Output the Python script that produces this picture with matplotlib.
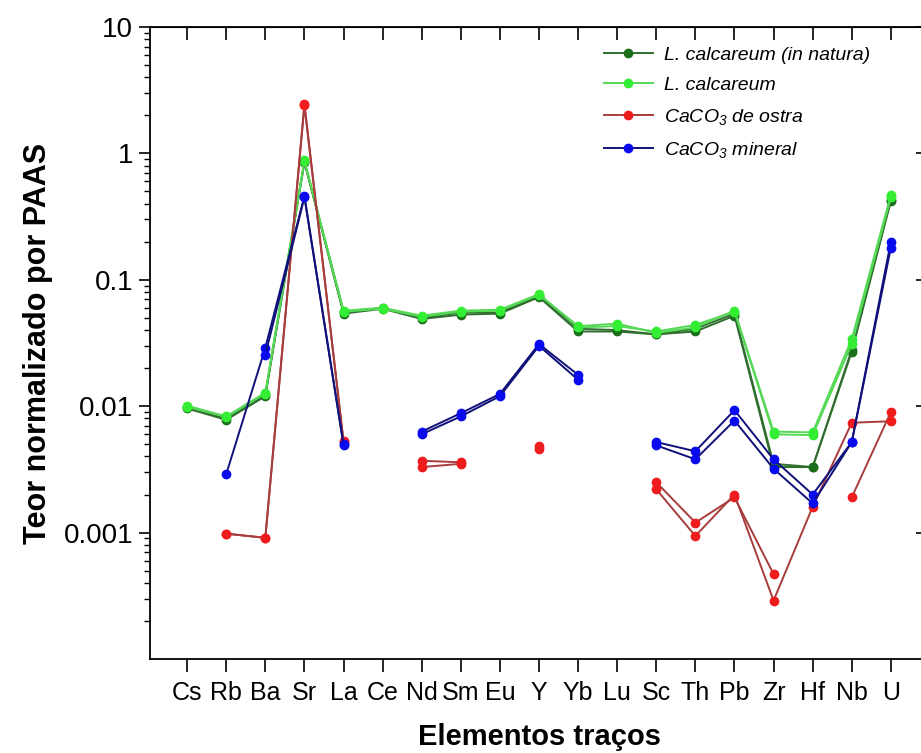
import numpy as np
import matplotlib
matplotlib.use('Agg')
import matplotlib.pyplot as plt
from matplotlib.ticker import FixedLocator, LogLocator, NullFormatter

plt.rcParams['mathtext.fontset'] = 'custom'
plt.rcParams['mathtext.rm'] = 'Liberation Sans:italic'
plt.rcParams['mathtext.it'] = 'Liberation Sans:italic'

nan = np.nan

elements = ['Cs', 'Rb', 'Ba', 'Sr', 'La', 'Ce', 'Nd', 'Sm', 'Eu', 'Y',
            'Yb', 'Lu', 'Sc', 'Th', 'Pb', 'Zr', 'Hf', 'Nb', 'U']

# L. calcareum (in natura) - two replicates
natura_a = [0.0096, 0.0078, 0.0120, 0.85, 0.054, 0.059, 0.049, 0.053, 0.054, 0.073,
            0.039, 0.039, 0.037, 0.039, 0.052, 0.0033, 0.0033, 0.027, 0.42]
natura_b = [0.0098, 0.0080, 0.0123, 0.86, 0.056, 0.060, 0.050, 0.055, 0.055, 0.075,
            0.041, 0.040, 0.037, 0.041, 0.054, 0.0035, 0.0033, 0.028, 0.43]

# L. calcareum
calc_a = [0.0101, 0.0083, 0.0128, 0.87, 0.056, 0.059, 0.051, 0.056, 0.057, 0.076,
          0.043, 0.045, 0.038, 0.042, 0.057, 0.0063, 0.0062, 0.034, 0.47]
calc_b = [0.0099, 0.0082, 0.0126, 0.88, 0.057, 0.060, 0.052, 0.057, 0.058, 0.077,
          0.042, 0.043, 0.039, 0.044, 0.056, 0.0060, 0.0059, 0.031, 0.45]

# CaCO3 de ostra
ostra_a = [nan, 0.00098, 0.00091, 2.45, 0.0053, nan, 0.0037, 0.0036, nan, 0.0048,
           nan, nan, 0.0025, 0.0012, 0.0019, 0.00047, nan, 0.0019, 0.0090]
ostra_b = [nan, 0.00098, 0.00091, 2.40, 0.0052, nan, 0.0033, 0.0035, nan, 0.0046,
           nan, nan, 0.0022, 0.00094, 0.0020, 0.00029, 0.0016, 0.0074, 0.0076]

# CaCO3 mineral
mineral_a = [nan, 0.0029, 0.029, 0.46, 0.0050, nan, 0.0063, 0.0088, 0.0125, 0.031,
             0.0177, nan, 0.0052, 0.0044, 0.0093, 0.0038, 0.0020, 0.0052, 0.20]
mineral_b = [nan, nan, 0.0255, 0.45, 0.0049, nan, 0.0060, 0.0083, 0.0120, 0.030,
             0.0162, nan, 0.0049, 0.0038, 0.0077, 0.0032, 0.0017, 0.0052, 0.18]

x = np.arange(len(elements))

fig = plt.figure(figsize=(9.21, 7.53), dpi=100)
ax = fig.add_axes([150/921, 94/753, 778/921, 632/753])

styles = [
    ('L. calcareum (in natura)', [natura_a, natura_b], '#2f6e2f', '#1b6e1b'),
    ('L. calcareum', [calc_a, calc_b], '#55d855', '#33ee33'),
    ('CaCO$_3$ de ostra', [ostra_a, ostra_b], '#a83c3c', '#ee1c1c'),
    ('CaCO$_3$ mineral', [mineral_a, mineral_b], '#10107a', '#0a0aee'),
]

order = [2, 0, 1, 3]
handles = [None] * 4
for i in order:
    label, series, lc, mc = styles[i]
    for k, s in enumerate(series):
        ln, = ax.plot(x, s, '-', color=lc, lw=1.4, marker='o', ms=6,
                      mfc=mc, mec=mc, label=label if k == 0 else None, zorder=2 + i)
        if k == 0:
            handles[i] = ln

ax.set_yscale('log')
ax.set_ylim(1e-4, 10)
ax.set_xlim(-0.95, 18.95)

ax.set_xticks(x)
ax.set_xticklabels(elements, family='Liberation Sans', fontsize=18)
ax.xaxis.set_ticks_position('bottom')
ax.tick_params(axis='x', direction='out', length=9, width=1.2, pad=7)

ax.yaxis.set_major_locator(FixedLocator([1e-3, 1e-2, 1e-1, 1, 10]))
ax.yaxis.set_minor_locator(LogLocator(base=10, subs=np.arange(2, 10)))
ax.yaxis.set_minor_formatter(NullFormatter())
ax.set_yticklabels(['0.001', '0.01', '0.1', '1', '10'])
for t in ax.get_yticklabels():
    t.set_fontfamily('Liberation Sans')
    t.set_fontsize(20)
ax.tick_params(axis='y', which='major', direction='out', length=8, width=1.2, pad=4)
ax.tick_params(axis='y', which='minor', direction='out', length=4, width=1.0)

# inward ticks on top and right like the original frame
sec = ax.secondary_xaxis('top')
sec.set_xticks(x)
sec.tick_params(direction='in', length=9, width=1.2, labeltop=False)
secy = ax.secondary_yaxis('right')
secy.yaxis.set_major_locator(FixedLocator([1e-3, 1e-2, 1e-1, 1, 10]))
secy.yaxis.set_minor_locator(FixedLocator([]))
secy.tick_params(direction='in', length=9, width=1.2, labelright=False)

for sp in ax.spines.values():
    sp.set_linewidth(1.3)

ax.set_xlabel('Elementos traços', family='Liberation Sans',
              fontsize=21, fontweight='bold', labelpad=13)
ax.set_ylabel('Teor normalizado por PAAS', family='Liberation Sans',
              fontsize=22, fontweight='bold', labelpad=8)

leg = ax.legend(handles=handles, loc='upper left', bbox_to_anchor=(0.561, 0.997),
                frameon=False, prop={'family': 'Liberation Sans', 'style': 'italic', 'size': 14},
                handlelength=2.5, labelspacing=0.65, handletextpad=0.57)

fig.savefig('out.png', dpi=100)
